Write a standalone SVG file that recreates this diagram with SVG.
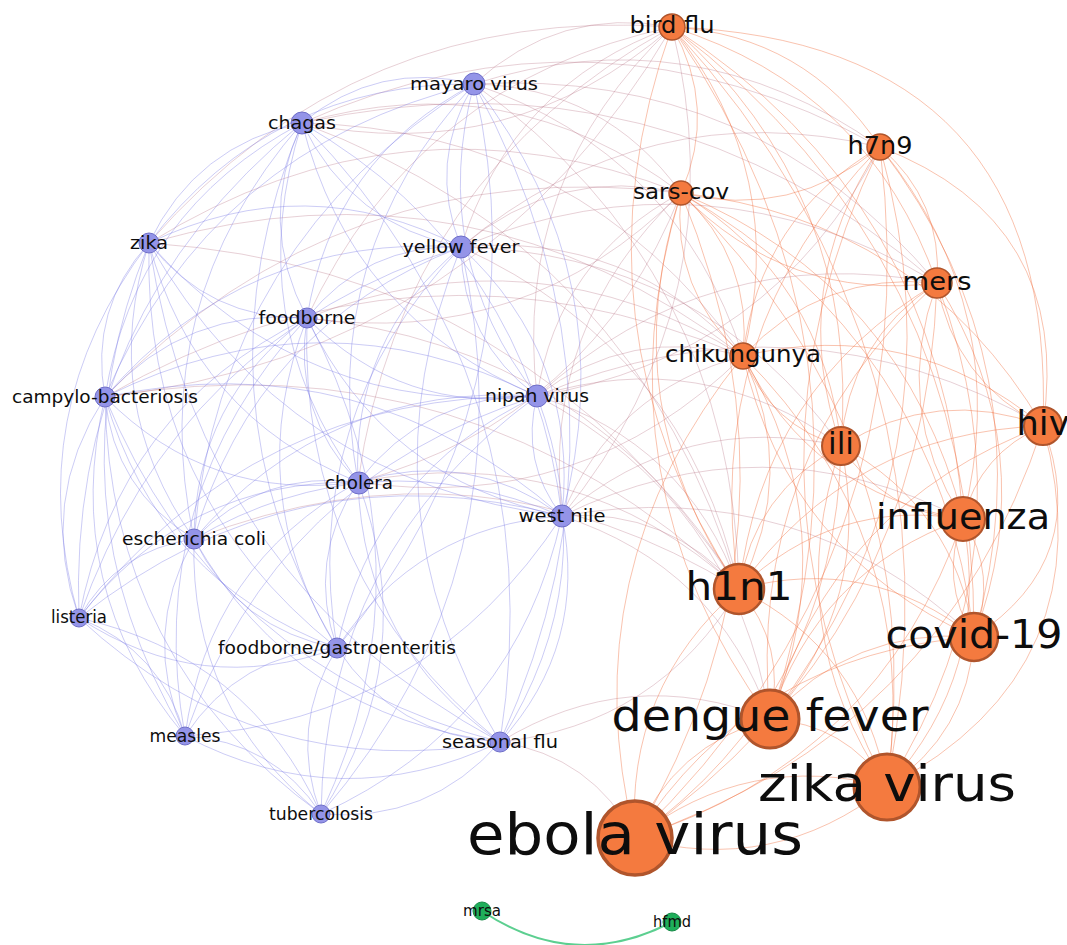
<svg xmlns="http://www.w3.org/2000/svg" width="1067" height="945" viewBox="0 0 1067 945">
<style>
path{fill:none;stroke-width:1}
.pp path{stroke:#7878e4;stroke-opacity:.38}
.po path{stroke:#b06478;stroke-opacity:.3}
.oo path{stroke:#f06a38;stroke-opacity:.4}
.gg path{stroke:#5ccf90;stroke-width:2}
.p circle{fill:#9494e8;stroke:#6e6ec8;stroke-width:1}
.o circle{fill:#f47a3f;stroke:#b0552c}
.g circle{fill:#1fae5a;stroke:#168a46;stroke-width:1}
text{font-family:"DejaVu Sans","Liberation Sans",sans-serif;fill:#0d0d0d;text-anchor:middle}
.p text{font-size:18.5px}
</style>
<rect width="1067" height="945" fill="#fff"/>
<g id="connectors">
<g class="po">
<path d="M672 27Q559 6 474 84"/><path d="M672 27Q511 167 302 123"/><path d="M672 27Q357 4 149 243"/><path d="M672 27Q512 84 461 247"/><path d="M672 27Q417 81 307 318"/><path d="M672 27Q481 354 105 397"/><path d="M672 27Q512 178 537 396"/><path d="M672 27Q739 299 562 516"/><path d="M672 27Q401 176 358 482"/>
<path d="M681 193Q605 87 474 84"/><path d="M681 193Q509 63 302 123"/><path d="M681 193Q403 85 149 243"/><path d="M681 193Q558 165 461 247"/><path d="M681 193Q525 349 307 318"/><path d="M681 193Q342 151 105 397"/><path d="M681 193Q558 259 537 396"/><path d="M681 193Q541 325 562 516"/><path d="M681 193Q592 418 358 482"/>
<path d="M880 147Q693 14 474 84"/><path d="M880 147Q597 -10 302 123"/><path d="M880 147Q646 92 461 247"/><path d="M880 147Q771 357 537 396"/>
<path d="M743 356Q677 153 474 84"/><path d="M743 356Q581 129 302 123"/><path d="M743 356Q474 151 149 243"/><path d="M743 356Q629 231 461 247"/><path d="M743 356Q630 325 537 396"/><path d="M743 356Q613 391 562 516"/><path d="M743 356Q414 217 105 397"/><path d="M743 356Q582 515 358 482"/><path d="M743 356Q535 228 307 318"/>
<path d="M937 283Q755 68 474 84"/><path d="M937 283Q660 44 302 123"/><path d="M937 283Q709 240 537 396"/><path d="M937 283Q708 146 461 247"/>
<path d="M739 589Q686 442 537 396"/><path d="M739 589Q669 508 562 516"/><path d="M739 589Q686 349 461 247"/><path d="M739 589Q637 247 302 123"/><path d="M739 589Q531 269 149 243"/><path d="M739 589Q575 440 358 482"/><path d="M739 589Q591 346 307 318"/><path d="M739 589Q470 335 105 397"/><path d="M739 589Q733 270 474 84"/><path d="M739 589Q479 428 194 539"/><path d="M739 589Q658 725 500 742"/>
<path d="M841 446Q702 345 537 396"/><path d="M841 446Q684 411 562 516"/><path d="M841 446Q701 252 461 247"/>
<path d="M770 719Q629 663 500 742"/><path d="M635 838Q592 756 500 742"/><path d="M770 719Q717 566 562 516"/><path d="M770 719Q734 499 537 396"/><path d="M963 519Q763 417 562 516"/><path d="M974 637Q798 474 562 516"/><path d="M1043 426Q798 285 537 396"/>
</g>
<g class="pp">
<path d="M474 84Q378 60 302 123"/><path d="M474 84Q272 82 149 243"/><path d="M474 84Q427 162 461 247"/><path d="M474 84Q332 159 307 318"/><path d="M474 84Q211 148 105 397"/><path d="M474 84Q428 256 537 396"/><path d="M474 84Q317 254 358 482"/><path d="M474 84Q626 278 562 516"/><path d="M474 84Q220 242 194 539"/><path d="M474 84Q546 400 337 648"/><path d="M474 84Q652 407 500 742"/>
<path d="M302 123Q196 145 149 243"/><path d="M302 123Q351 225 461 247"/><path d="M302 123Q256 222 307 318"/><path d="M302 123Q135 211 105 397"/><path d="M302 123Q351 318 537 396"/><path d="M302 123Q240 317 358 482"/><path d="M302 123Q530 255 562 516"/><path d="M302 123Q144 304 194 539"/><path d="M302 123Q67 315 79 618"/><path d="M302 123Q188 394 337 648"/><path d="M302 123Q556 383 500 742"/>
<path d="M149 243Q306 167 461 247"/><path d="M149 243Q209 320 307 318"/><path d="M149 243Q89 309 105 397"/><path d="M149 243Q305 417 537 396"/><path d="M149 243Q194 415 358 482"/><path d="M149 243Q287 483 562 516"/><path d="M149 243Q98 402 194 539"/><path d="M149 243Q20 413 79 618"/><path d="M149 243Q142 493 337 648"/><path d="M149 243Q44 499 185 736"/><path d="M149 243Q200 580 500 742"/>
<path d="M461 247Q366 244 307 318"/><path d="M461 247Q246 233 105 397"/><path d="M461 247Q462 341 537 396"/><path d="M461 247Q351 339 358 482"/><path d="M461 247Q579 356 562 516"/><path d="M461 247Q255 326 194 539"/><path d="M461 247Q177 337 79 618"/><path d="M461 247Q299 417 337 648"/><path d="M461 247Q357 504 500 742"/><path d="M461 247Q533 566 321 814"/>
<path d="M307 318Q186 307 105 397"/><path d="M307 318Q403 415 537 396"/><path d="M307 318Q292 413 358 482"/><path d="M307 318Q385 481 562 516"/><path d="M307 318Q195 400 194 539"/><path d="M307 318Q118 411 79 618"/><path d="M307 318Q240 491 337 648"/><path d="M307 318Q142 497 185 736"/><path d="M307 318Q298 578 500 742"/><path d="M307 318Q438 563 321 814"/>
<path d="M105 397Q321 289 537 396"/><path d="M105 397Q210 503 358 482"/><path d="M105 397Q363 342 562 516"/><path d="M105 397Q114 490 194 539"/><path d="M105 397Q37 501 79 618"/><path d="M105 397Q158 581 337 648"/><path d="M105 397Q60 587 185 736"/><path d="M105 397Q216 668 500 742"/><path d="M105 397Q109 660 321 814"/>
<path d="M537 396Q426 394 358 482"/><path d="M537 396Q520 462 562 516"/><path d="M537 396Q330 382 194 539"/><path d="M537 396Q253 393 79 618"/><path d="M537 396Q374 472 337 648"/><path d="M537 396Q276 478 185 736"/><path d="M537 396Q605 578 500 742"/><path d="M537 396Q325 551 321 814"/>
<path d="M358 482Q469 448 562 516"/><path d="M358 482Q262 470 194 539"/><path d="M358 482Q185 480 79 618"/><path d="M358 482Q306 560 337 648"/><path d="M358 482Q208 566 185 736"/><path d="M358 482Q364 648 500 742"/><path d="M358 482Q423 657 321 814"/>
<path d="M562 516Q372 436 194 539"/><path d="M562 516Q295 446 79 618"/><path d="M562 516Q417 526 337 648"/><path d="M562 516Q429 720 185 736"/><path d="M562 516Q588 645 500 742"/><path d="M562 516Q516 725 321 814"/>
<path d="M194 539Q117 550 79 618"/><path d="M194 539Q238 629 337 648"/><path d="M194 539Q140 635 185 736"/><path d="M194 539Q296 717 500 742"/><path d="M194 539Q189 708 321 814"/>
<path d="M79 618Q201 698 337 648"/><path d="M79 618Q162 651 185 736"/><path d="M79 618Q259 785 500 742"/><path d="M79 618Q249 656 321 814"/>
<path d="M337 648Q239 654 185 736"/><path d="M337 648Q395 736 500 742"/><path d="M337 648Q288 727 321 814"/>
<path d="M185 736Q341 818 500 742"/><path d="M185 736Q273 741 321 814"/><path d="M500 742Q429 823 321 814"/>
</g>
<g class="oo">
<path d="M672 27Q806 35 880 147"/><path d="M672 27Q718 108 681 193"/><path d="M672 27Q869 89 937 283"/><path d="M672 27Q790 174 743 356"/><path d="M672 27Q861 194 841 446"/><path d="M672 27Q1057 41 1043 426"/><path d="M672 27Q941 200 963 519"/><path d="M672 27Q565 325 739 589"/><path d="M672 27Q976 257 974 637"/><path d="M672 27Q894 349 770 719"/><path d="M672 27Q970 353 887 787"/>
<path d="M880 147Q792 220 681 193"/><path d="M880 147Q943 201 937 283"/><path d="M880 147Q759 217 743 356"/><path d="M880 147Q786 287 841 446"/><path d="M880 147Q1073 221 1043 426"/><path d="M880 147Q1015 312 963 519"/><path d="M880 147Q699 333 739 589"/><path d="M880 147Q1050 369 974 637"/><path d="M880 147Q968 461 770 719"/><path d="M880 147Q724 469 887 787"/><path d="M880 147Q930 554 635 838"/>
<path d="M681 193Q787 302 937 283"/><path d="M681 193Q671 290 743 356"/><path d="M681 193Q753 259 743 356"/><path d="M681 193Q824 280 841 446"/><path d="M681 193Q920 219 1043 426"/><path d="M681 193Q904 286 963 519"/><path d="M681 193Q611 406 739 589"/><path d="M681 193Q939 342 974 637"/><path d="M681 193Q594 478 770 719"/><path d="M681 193Q933 439 887 787"/><path d="M681 193Q819 527 635 838"/>
<path d="M937 283Q822 271 743 356"/><path d="M937 283Q848 341 841 446"/><path d="M937 283Q954 381 1043 426"/><path d="M937 283Q891 408 963 519"/><path d="M937 283Q762 387 739 589"/><path d="M937 283Q1044 451 974 637"/><path d="M937 283Q745 459 770 719"/><path d="M937 283Q1038 548 887 787"/><path d="M937 283Q925 636 635 838"/>
<path d="M743 356Q770 426 841 446"/><path d="M743 356Q911 316 1043 426"/><path d="M743 356Q812 493 963 519"/><path d="M743 356Q799 474 739 589"/><path d="M743 356Q788 554 974 637"/><path d="M743 356Q847 531 770 719"/><path d="M743 356Q923 536 887 787"/><path d="M743 356Q569 570 635 838"/>
<path d="M841 446Q937 386 1043 426"/><path d="M841 446Q884 513 963 519"/><path d="M841 446Q754 492 739 589"/><path d="M841 446Q955 508 974 637"/><path d="M841 446Q874 600 770 719"/><path d="M841 446Q779 628 887 787"/><path d="M841 446Q836 694 635 838"/>
<path d="M1043 426Q980 453 963 519"/><path d="M1043 426Q850 432 739 589"/><path d="M1043 426Q1093 559 974 637"/><path d="M1043 426Q833 504 770 719"/><path d="M1043 426Q1109 669 887 787"/><path d="M1043 426Q942 734 635 838"/>
<path d="M963 519Q834 498 739 589"/><path d="M963 519Q998 575 974 637"/><path d="M963 519Q939 581 974 637"/><path d="M963 519Q817 571 770 719"/><path d="M963 519Q992 672 887 787"/><path d="M963 519Q879 761 635 838"/>
<path d="M739 589Q869 554 974 637"/><path d="M739 589Q787 646 770 719"/><path d="M739 589Q863 651 887 787"/><path d="M739 589Q625 688 635 838"/>
<path d="M974 637Q852 627 770 719"/><path d="M974 637Q968 734 887 787"/><path d="M974 637Q754 653 635 838"/>
<path d="M770 719Q846 724 887 787"/><path d="M770 719Q673 745 635 838"/><path d="M887 787Q748 750 635 838"/><path d="M887 787Q774 876 635 838"/>
</g>
<g class="gg"><path d="M482 911Q574 973 672 922"/></g>
</g>
<g id="nodes">
<g id="mayaro-virus" class="p"><circle cx="474" cy="84" r="11"/><text x="474" y="89.5" textLength="128" lengthAdjust="spacingAndGlyphs">mayaro virus</text></g>
<g id="chagas" class="p"><circle cx="302" cy="123" r="11"/><text x="302" y="128.5" textLength="68" lengthAdjust="spacingAndGlyphs">chagas</text></g>
<g id="zika" class="p"><circle cx="149" cy="243" r="10"/><text x="149" y="248.5" textLength="38" lengthAdjust="spacingAndGlyphs">zika</text></g>
<g id="yellow-fever" class="p"><circle cx="461" cy="247" r="11"/><text x="461" y="252.5" textLength="117" lengthAdjust="spacingAndGlyphs">yellow fever</text></g>
<g id="foodborne" class="p"><circle cx="307" cy="318" r="10"/><text x="307" y="323.5" textLength="97" lengthAdjust="spacingAndGlyphs">foodborne</text></g>
<g id="campylo-bacteriosis" class="p"><circle cx="105" cy="397" r="10"/><text x="105" y="402.5" textLength="186" lengthAdjust="spacingAndGlyphs">campylo-bacteriosis</text></g>
<g id="nipah-virus" class="p"><circle cx="537" cy="396" r="11"/><text x="537" y="401.5" textLength="104" lengthAdjust="spacingAndGlyphs">nipah virus</text></g>
<g id="cholera" class="p"><circle cx="359" cy="483" r="11"/><text x="359" y="488.5" textLength="68" lengthAdjust="spacingAndGlyphs">cholera</text></g>
<g id="west-nile" class="p"><circle cx="562" cy="516" r="11"/><text x="562" y="521.5" textLength="87" lengthAdjust="spacingAndGlyphs">west nile</text></g>
<g id="escherichia-coli" class="p"><circle cx="194" cy="539" r="10"/><text x="194" y="544.5" textLength="144" lengthAdjust="spacingAndGlyphs">escherichia coli</text></g>
<g id="listeria" class="p"><circle cx="79" cy="618" r="9"/><text x="79" y="623" textLength="56" lengthAdjust="spacingAndGlyphs" style="font-size:17px">listeria</text></g>
<g id="foodborne-gastroenteritis" class="p"><circle cx="337" cy="648" r="10"/><text x="337" y="653.5" textLength="238" lengthAdjust="spacingAndGlyphs">foodborne/gastroenteritis</text></g>
<g id="measles" class="p"><circle cx="185" cy="736" r="9"/><text x="185" y="741.5" textLength="71" lengthAdjust="spacingAndGlyphs">measles</text></g>
<g id="seasonal-flu" class="p"><circle cx="500" cy="742" r="10"/><text x="500" y="747.5" textLength="116" lengthAdjust="spacingAndGlyphs">seasonal flu</text></g>
<g id="tubercolosis" class="p"><circle cx="321" cy="814" r="9"/><text x="321" y="819.5" textLength="104" lengthAdjust="spacingAndGlyphs">tubercolosis</text></g>
<g id="bird-flu" class="o"><circle cx="672" cy="27" r="13" stroke-width="1.5"/><text x="672" y="33" font-size="22.5" textLength="85" lengthAdjust="spacingAndGlyphs">bird flu</text></g>
<g id="h7n9" class="o"><circle cx="880" cy="147" r="13" stroke-width="1.5"/><text x="880" y="154" font-size="24" textLength="65" lengthAdjust="spacingAndGlyphs">h7n9</text></g>
<g id="sars-cov" class="o"><circle cx="681" cy="193" r="12" stroke-width="1.5"/><text x="681" y="199" font-size="22" textLength="96" lengthAdjust="spacingAndGlyphs">sars-cov</text></g>
<g id="mers" class="o"><circle cx="937" cy="283" r="15" stroke-width="1.5"/><text x="937" y="290" font-size="25" textLength="69" lengthAdjust="spacingAndGlyphs">mers</text></g>
<g id="chikungunya" class="o"><circle cx="743" cy="356" r="13" stroke-width="1.5"/><text x="743" y="362" font-size="23" textLength="156" lengthAdjust="spacingAndGlyphs">chikungunya</text></g>
<g id="ili" class="o"><circle cx="841" cy="446" r="19" stroke-width="2"/><text x="841" y="454" font-size="30" textLength="26" lengthAdjust="spacingAndGlyphs">ili</text></g>
<g id="hiv" class="o"><circle cx="1043" cy="426" r="19" stroke-width="2"/><text x="1043" y="435" font-size="33" textLength="53" lengthAdjust="spacingAndGlyphs">hiv</text></g>
<g id="influenza" class="o"><circle cx="963" cy="519" r="22" stroke-width="2"/><text x="963" y="529" font-size="36" textLength="174" lengthAdjust="spacingAndGlyphs">influenza</text></g>
<g id="h1n1" class="o"><circle cx="739" cy="589" r="25" stroke-width="2.5"/><text x="739" y="600" font-size="39" textLength="107" lengthAdjust="spacingAndGlyphs">h1n1</text></g>
<g id="covid-19" class="o"><circle cx="974" cy="637" r="24" stroke-width="2.5"/><text x="974" y="647.5" font-size="38.5" textLength="177" lengthAdjust="spacingAndGlyphs">covid-19</text></g>
<g id="dengue-fever" class="o"><circle cx="770" cy="719" r="29" stroke-width="3"/><text x="770" y="731" font-size="44" textLength="317" lengthAdjust="spacingAndGlyphs">dengue fever</text></g>
<g id="zika-virus" class="o"><circle cx="887" cy="787" r="33" stroke-width="3"/><text x="887" y="801" font-size="50" textLength="258" lengthAdjust="spacingAndGlyphs">zika virus</text></g>
<g id="ebola-virus" class="o"><circle cx="635" cy="838" r="37" stroke-width="3.5"/><text x="635" y="853.5" font-size="57" textLength="336" lengthAdjust="spacingAndGlyphs">ebola virus</text></g>
<g id="mrsa" class="g"><circle cx="482" cy="911" r="9"/><text x="482" y="916" font-size="15" textLength="38" lengthAdjust="spacingAndGlyphs">mrsa</text></g>
<g id="hfmd" class="g"><circle cx="672" cy="922" r="9"/><text x="672" y="927" font-size="15" textLength="38" lengthAdjust="spacingAndGlyphs">hfmd</text></g>
</g>
</svg>
